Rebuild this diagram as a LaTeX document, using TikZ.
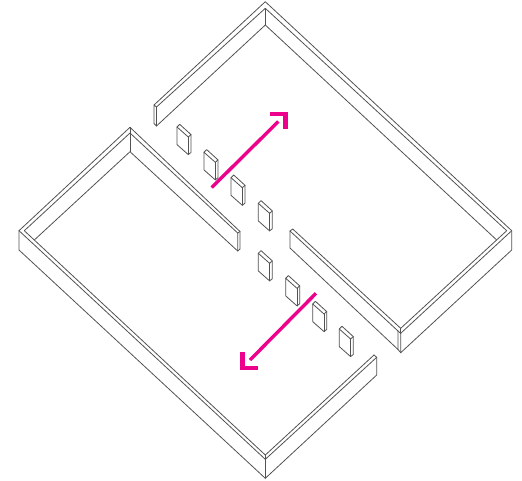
\documentclass[tikz,border=0pt]{standalone}
\tikzset{
  wall/.style={draw=black!68,line width=0.8pt,line join=round,line cap=round},
  arrowline/.style={draw=hotpink,line width=3.4pt},
  arrowhead/.style={draw=hotpink,line width=4.8pt,miter limit=10},
  post/.pic={
    \draw[wall] (0,0) -- (2.7,-2.7) -- (14,7.6) -- (11.3,10) -- cycle;
    \draw[wall] (0,0) -- (0,17.6) -- (11.3,27.6) -- (14,25.4) -- (14,7.6);
    \draw[wall] (11.3,10) -- (11.3,27.6);
  }
}
\definecolor{hotpink}{HTML}{EC008C}
\begin{document}
\begin{tikzpicture}[x=1pt,y=-1pt]
\useasboundingbox (0,0) rectangle (522,480);
% upper room
\draw[wall] (156.5,107) -- (154,105) -- (265.3,1.7) -- (511.7,230.7) -- (511.7,250) -- (400.7,352.7) -- (398,349.5) -- (290,248) -- (290,231) -- (292.7,229) -- (400.7,328.3) -- (506.7,230.7) -- (265.3,8.3) -- (156.5,107) -- (156.5,126) -- (154,123.5) -- (154,105);
\draw[wall] (156.5,126) -- (265.3,25) -- (496.7,240);
\draw[wall] (265.3,8.3) -- (265.3,25);
\draw[wall] (511.7,230.7) -- (400.7,333.3) -- (400.7,352.7);
\draw[wall] (290,231) -- (398,331) -- (398,349.5);
\draw[wall] (398,331) -- (400.7,333.3);
\draw[wall] (400.7,328.3) -- (400.7,333.3);
% lower room
\draw[wall] (374,355) -- (376.7,357.3) -- (265.3,459.3) -- (19,230.7) -- (130,127.3) -- (240,231.5) -- (240,249) -- (237.7,251) -- (130,151.7) -- (34.3,240);
\draw[wall] (19,230.7) -- (19,250) -- (265.3,478.3) -- (376.7,375) -- (376.7,357.3);
\draw[wall] (24.3,230.7) -- (130,133) -- (237.7,233) -- (237.7,251);
\draw[wall] (237.7,233) -- (240,231.5);
\draw[wall] (130,127.3) -- (130,151.7);
\draw[wall] (24.3,230.7) -- (265.3,455) -- (374,355);
\draw[wall] (265.3,455) -- (265.3,478.3);
% posts
\foreach \px/\py in {177/127,204/152.3,231/177.7,258.3/203.3,258.3/253.3,285.7/278.3,312.7/304,339.3/329}
  \pic at (\px,\py) {post};
% arrows
\coordinate (ua) at (211.7,187.5);
\coordinate (ub) at (278.3,121.5);
\coordinate (la) at (316,293.3);
\coordinate (lb) at (250,360);
\draw[arrowline] (ua) -- (ub);
\draw[arrowhead] (270,114) -- (285.5,114) -- (285.5,129);
\draw[arrowline] (la) -- (lb);
\draw[arrowhead] (242.3,352.3) -- (242.3,368) -- (257.5,368);
\end{tikzpicture}
\end{document}
